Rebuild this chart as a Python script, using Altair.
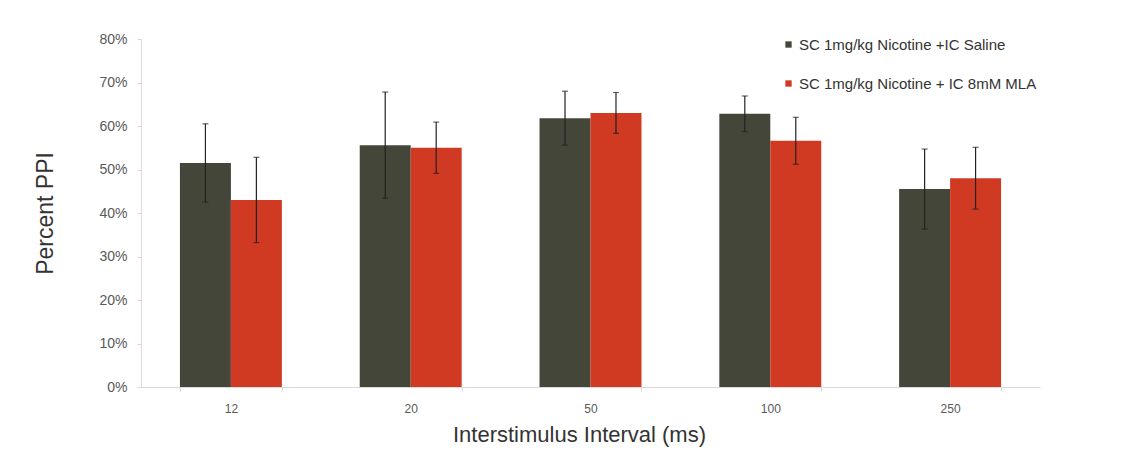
import altair as alt
import pandas as pd

intervals = ["12", "20", "50", "100", "250"]
groups = ["SC 1mg/kg Nicotine +IC Saline", "SC 1mg/kg Nicotine + IC 8mM MLA"]
saline_mean = [51.5, 55.6, 61.8, 62.8, 45.5]
saline_err = [9.0, 12.2, 6.2, 4.1, 9.2]
mla_mean = [43.0, 55.0, 63.0, 56.6, 48.0]
mla_err = [9.8, 5.9, 4.7, 5.4, 7.1]
colors = ["#45463a", "#d03a22"]

rows = []
for i, iv in enumerate(intervals):
    rows.append({"interval": iv, "group": groups[0], "mean": saline_mean[i] / 100,
                 "lo": (saline_mean[i] - saline_err[i]) / 100, "hi": (saline_mean[i] + saline_err[i]) / 100})
    rows.append({"interval": iv, "group": groups[1], "mean": mla_mean[i] / 100,
                 "lo": (mla_mean[i] - mla_err[i]) / 100, "hi": (mla_mean[i] + mla_err[i]) / 100})
df = pd.DataFrame(rows)

font = "Liberation Sans"

x = alt.X("interval:N", sort=intervals,
          scale=alt.Scale(paddingInner=0.433, paddingOuter=0.2165),
          axis=alt.Axis(title="Interstimulus Interval (ms)", labelAngle=0, tickBand="extent",
                        labelFontSize=12, labelColor="#595959", labelFont=font, labelPadding=12,
                        titleFontSize=22, titleFont=font, titleFontWeight="normal", titleColor="#333333",
                        titlePadding=10, titleX=438, titleAlign="center",
                        domainColor="#d9d9d9", tickColor="#d9d9d9", tickSize=4,
                        grid=False))
xo = alt.XOffset("group:N", sort=groups, scale=alt.Scale(paddingInner=0, paddingOuter=0))
y_scale = alt.Scale(domain=[0, 0.8])

bars = alt.Chart(df).mark_bar().encode(
    x=x, xOffset=xo,
    y=alt.Y("mean:Q", scale=y_scale,
            axis=alt.Axis(title="Percent PPI", format=".0%", values=[i / 10 for i in range(9)],
                          labelFontSize=14, labelColor="#595959", labelFont=font, labelPadding=10,
                          titleFontSize=23, titleFont=font, titleFontWeight="normal", titleColor="#333333",
                          titlePadding=41, domainColor="#e8d8dc", tickColor="#e0d0d4", tickSize=4,
                          grid=False)),
    color=alt.Color("group:N", sort=groups, scale=alt.Scale(domain=groups, range=colors),
                    legend=alt.Legend(title=None, orient="none", legendX=640, legendY=-2,
                                      symbolType="square", symbolSize=40, symbolStrokeWidth=0,
                                      labelFontSize=15, labelFont=font, labelColor="#333333",
                                      labelLimit=0, rowPadding=23, labelOffset=3))
)

err = alt.Chart(df).mark_rule(color="#222222", strokeWidth=1.2).encode(
    x=alt.X("interval:N", sort=intervals), xOffset=xo,
    y=alt.Y("lo:Q", scale=y_scale), y2="hi:Q"
)
cap_lo = alt.Chart(df).mark_tick(color="#222222", thickness=1.2, size=6).encode(
    x=alt.X("interval:N", sort=intervals), xOffset=xo, y=alt.Y("lo:Q", scale=y_scale)
)
cap_hi = alt.Chart(df).mark_tick(color="#222222", thickness=1.2, size=6).encode(
    x=alt.X("interval:N", sort=intervals), xOffset=xo, y=alt.Y("hi:Q", scale=y_scale)
)

chart = alt.layer(bars, err, cap_lo, cap_hi).properties(
    width=899, height=348,
    background="white",
    autosize=alt.AutoSizeParams(type="none"),
    padding={"left": 133, "top": 31, "right": 97, "bottom": 62},
).configure_view(strokeWidth=0, stroke="transparent")

chart.save("out.html", embed_options={"renderer": "svg", "actions": False})
